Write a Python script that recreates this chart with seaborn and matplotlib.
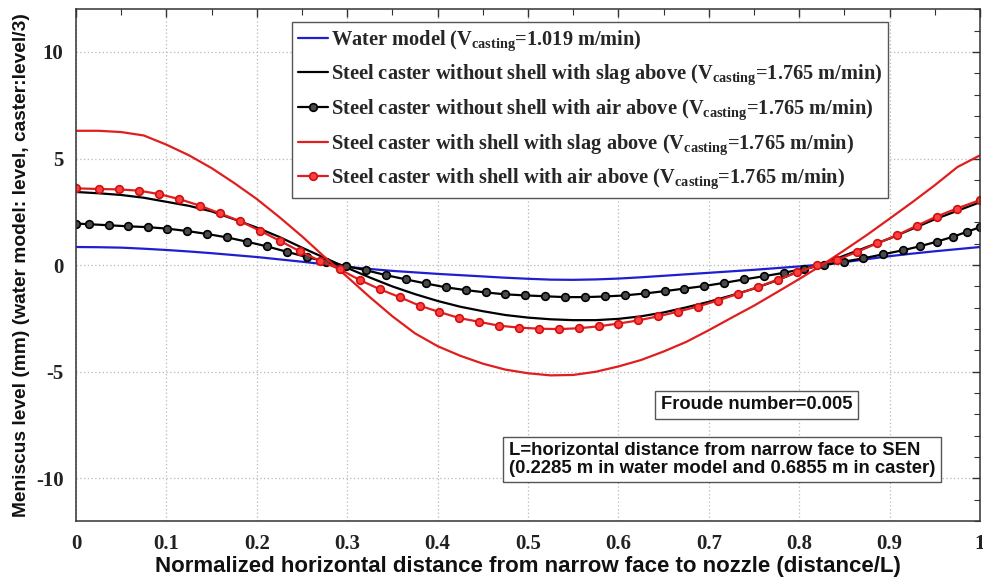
import matplotlib
matplotlib.use("Agg")
import matplotlib.pyplot as plt
import pandas as pd
import seaborn as sns
from matplotlib.ticker import MultipleLocator

# Normalized distance from narrow face (distance/L) for the smooth curves
x_grid = [0.000, 0.025, 0.050, 0.075, 0.100, 0.125, 0.150, 0.175, 0.200, 0.225,
          0.250, 0.275, 0.300, 0.325, 0.350, 0.375, 0.400, 0.425, 0.450, 0.475,
          0.500, 0.525, 0.550, 0.575, 0.600, 0.625, 0.650, 0.675, 0.700, 0.725,
          0.750, 0.775, 0.800, 0.825, 0.850, 0.875, 0.900, 0.925, 0.950, 0.975,
          1.000]

# Water model, level in mm
water_model = [0.85, 0.84, 0.82, 0.77, 0.71, 0.64, 0.56, 0.47, 0.38, 0.27,
               0.16, 0.04, -0.08, -0.18, -0.27, -0.34, -0.41, -0.47, -0.53, -0.59,
               -0.64, -0.68, -0.69, -0.67, -0.63, -0.57, -0.50, -0.43, -0.36, -0.29,
               -0.22, -0.14, -0.06, 0.03, 0.14, 0.28, 0.42, 0.54, 0.65, 0.75,
               0.85]

# Steel caster without shell, slag above (level/3)
no_shell_slag = [3.43, 3.37, 3.29, 3.16, 2.97, 2.78, 2.52, 2.15, 1.76, 1.32,
                 0.82, 0.34, -0.13, -0.58, -1.00, -1.36, -1.68, -1.95, -2.16, -2.34,
                 -2.46, -2.54, -2.58, -2.58, -2.52, -2.40, -2.22, -1.98, -1.72, -1.42,
                 -1.10, -0.72, -0.28, 0.05, 0.45, 0.85, 1.25, 1.70, 2.15, 2.55,
                 2.95]

# Steel caster with shell, slag above (level/3)
shell_slag = [6.30, 6.30, 6.24, 6.08, 5.65, 5.15, 4.55, 3.85, 3.10, 2.25,
              1.35, 0.38, -0.55, -1.50, -2.40, -3.20, -3.80, -4.25, -4.62, -4.90,
              -5.07, -5.17, -5.15, -5.00, -4.75, -4.45, -4.05, -3.60, -3.05, -2.47,
              -1.90, -1.28, -0.65, 0.00, 0.70, 1.42, 2.18, 2.95, 3.75, 4.60,
              5.15]

# Steel caster without shell, air above (cell positions and level/3)
x_no_shell_air = [0.000, 0.014, 0.036, 0.058, 0.080, 0.101, 0.123, 0.145, 0.167, 0.189,
                  0.211, 0.233, 0.255, 0.277, 0.299, 0.321, 0.343, 0.365, 0.387, 0.409,
                  0.431, 0.453, 0.475, 0.497, 0.519, 0.541, 0.563, 0.585, 0.607, 0.629,
                  0.651, 0.673, 0.695, 0.717, 0.739, 0.761, 0.783, 0.805, 0.827, 0.849,
                  0.871, 0.893, 0.915, 0.934, 0.952, 0.970, 0.986, 1.000]
no_shell_air = [1.95, 1.92, 1.87, 1.82, 1.78, 1.71, 1.60, 1.46, 1.30, 1.10,
                0.88, 0.63, 0.38, 0.16, -0.05, -0.24, -0.47, -0.67, -0.86, -1.04,
                -1.17, -1.28, -1.37, -1.42, -1.46, -1.50, -1.50, -1.47, -1.42, -1.33,
                -1.22, -1.10, -0.98, -0.83, -0.67, -0.52, -0.36, -0.17, 0.00, 0.16,
                0.32, 0.51, 0.70, 0.89, 1.10, 1.33, 1.57, 1.78]

# Steel caster with shell, air above (cell positions and level/3)
x_shell_air = [0.000, 0.026, 0.048, 0.070, 0.092, 0.114, 0.137, 0.159, 0.181, 0.204,
               0.226, 0.248, 0.270, 0.292, 0.314, 0.336, 0.358, 0.380, 0.402, 0.424,
               0.446, 0.468, 0.490, 0.512, 0.534, 0.556, 0.578, 0.600, 0.622, 0.644,
               0.666, 0.688, 0.710, 0.732, 0.754, 0.776, 0.798, 0.820, 0.842, 0.864,
               0.886, 0.908, 0.930, 0.952, 0.974, 1.000]
shell_air = [3.60, 3.57, 3.55, 3.49, 3.33, 3.10, 2.79, 2.43, 2.07, 1.60,
             1.13, 0.64, 0.20, -0.20, -0.70, -1.13, -1.50, -1.90, -2.20, -2.48,
             -2.66, -2.84, -2.93, -2.98, -3.00, -2.96, -2.87, -2.74, -2.59, -2.40,
             -2.18, -1.94, -1.66, -1.35, -1.03, -0.68, -0.34, 0.00, 0.25, 0.62,
             1.02, 1.40, 1.85, 2.28, 2.65, 3.05]

series_labels = [
    r"Water model (V$_{\mathrm{casting}}$=1.019 m/min)",
    r"Steel caster without shell with slag above (V$_{\mathrm{casting}}$=1.765 m/min)",
    r"Steel caster without shell with air above (V$_{\mathrm{casting}}$=1.765 m/min)",
    r"Steel caster with shell with slag above (V$_{\mathrm{casting}}$=1.765 m/min)",
    r"Steel caster with shell with air above (V$_{\mathrm{casting}}$=1.765 m/min)",
]

x_ticks = [0.0, 0.1, 0.2, 0.3, 0.4, 0.5, 0.6, 0.7, 0.8, 0.9, 1.0]
x_tick_labels = ["0", "0.1", "0.2", "0.3", "0.4", "0.5", "0.6", "0.7", "0.8", "0.9", "1"]
y_ticks = [-10, -5, 0, 5, 10]
y_tick_labels = ["-10", "-5", "0", "5", "10"]

sns.set_theme(style="white")
plt.rcParams["font.family"] = ["Liberation Serif", "DejaVu Serif"]
plt.rcParams["font.weight"] = "bold"
plt.rcParams["mathtext.fontset"] = "custom"
plt.rcParams["mathtext.rm"] = "Liberation Serif:bold"
plt.rcParams["mathtext.it"] = "Liberation Serif:bold"
plt.rcParams["mathtext.bf"] = "Liberation Serif:bold"
plt.rcParams["axes.unicode_minus"] = False

fig = plt.figure(figsize=(9.83, 5.77), dpi=100)
ax = fig.add_axes([0.0773, 0.097, 0.9197, 0.887])

BLUE = "#1f1fd0"
RED = "#e01e1e"

sns.lineplot(data=pd.DataFrame({"x": x_grid, "y": water_model}), x="x", y="y",
             ax=ax, color=BLUE, linewidth=1.6, label=series_labels[0])
sns.lineplot(data=pd.DataFrame({"x": x_grid, "y": no_shell_slag}), x="x", y="y",
             ax=ax, color="black", linewidth=1.6, label=series_labels[1])
sns.lineplot(data=pd.DataFrame({"x": x_no_shell_air, "y": no_shell_air}), x="x", y="y",
             ax=ax, color="black", linewidth=1.6, marker="o", markersize=5.5,
             markerfacecolor="#4a4a4a", markeredgecolor="black", markeredgewidth=1.2,
             label=series_labels[2])
sns.lineplot(data=pd.DataFrame({"x": x_grid, "y": shell_slag}), x="x", y="y",
             ax=ax, color=RED, linewidth=1.6, label=series_labels[3])
sns.lineplot(data=pd.DataFrame({"x": x_shell_air, "y": shell_air}), x="x", y="y",
             ax=ax, color=RED, linewidth=1.6, marker="o", markersize=5.5,
             markerfacecolor="#ff4040", markeredgecolor="#d01010", markeredgewidth=1.2,
             label=series_labels[4])

ax.set_xlim(0, 1)
ax.set_ylim(-12, 12)
ax.set_xticks(x_ticks)
ax.set_xticklabels(x_tick_labels)
ax.set_yticks(y_ticks)
ax.set_yticklabels(y_tick_labels)
ax.xaxis.set_minor_locator(MultipleLocator(0.05))
ax.yaxis.set_minor_locator(MultipleLocator(1))
ax.tick_params(which="both", direction="in", top=True, right=True, colors="#333333")
ax.tick_params(which="major", length=6, width=1.0, labelsize=15, pad=9,
               labelcolor="#222222")
ax.tick_params(which="minor", length=4, width=0.8)
ax.grid(True, which="major", linestyle=(0, (1, 2)), color="#b8b8b8", linewidth=0.9)
for spine in ax.spines.values():
    spine.set_color("#333333")
    spine.set_linewidth(1.1)

ax.set_xlabel("Normalized horizontal distance from narrow face to nozzle (distance/L)",
              family="Liberation Sans", weight="bold", fontsize=16, labelpad=2,
              color="#111111")
ax.set_ylabel("Meniscus level (mm) (water model: level, caster:level/3)",
              family="Liberation Sans", weight="bold", fontsize=13.8, labelpad=4,
              color="#111111")

leg = ax.legend(loc="upper left", bbox_to_anchor=(0.239, 0.975), borderaxespad=0,
                prop={"family": "Liberation Serif", "weight": "bold", "size": 14.7},
                frameon=True, fancybox=False, edgecolor="#555555", framealpha=1,
                handlelength=1.45, handletextpad=0.15, labelspacing=0.5,
                borderpad=0.3)
leg.get_frame().set_linewidth(1.0)

ax.text(0.753, 0.227, "Froude number=0.005", transform=ax.transAxes,
        family="Liberation Sans", weight="bold", fontsize=13.2, ha="center", va="center",
        color="#111111",
        bbox=dict(boxstyle="square,pad=0.3", facecolor="white", edgecolor="#555555",
                  linewidth=1.0))
ax.text(0.479, 0.12,
        "L=horizontal distance from narrow face to SEN\n"
        "(0.2285 m in water model and 0.6855 m in caster)",
        transform=ax.transAxes, family="Liberation Sans", weight="bold", fontsize=13.3,
        ha="left", va="center", color="#111111", linespacing=1.05,
        bbox=dict(boxstyle="square,pad=0.3", facecolor="white", edgecolor="#555555",
                  linewidth=1.0))

fig.savefig("out.png", dpi=100)
